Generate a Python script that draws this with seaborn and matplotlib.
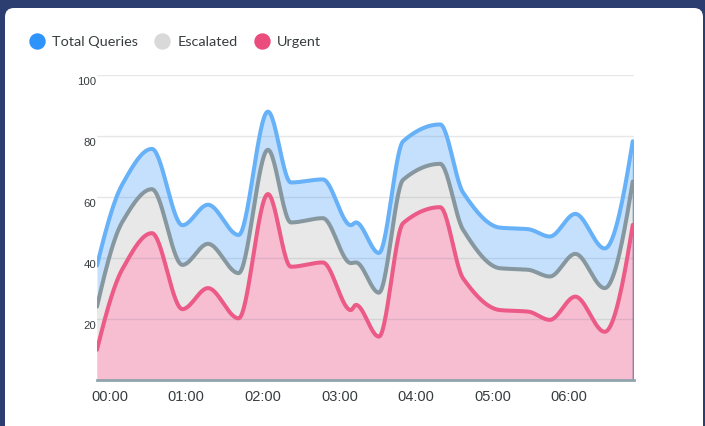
import numpy as np
import seaborn as sns
import matplotlib.pyplot as plt
from matplotlib.lines import Line2D
from matplotlib.patches import FancyBboxPatch
from matplotlib.transforms import IdentityTransform, ScaledTranslation

# minutes after 00:00 for each sample
minutes = [-10, 10, 33, 57, 77, 101, 124, 142, 167, 189, 193, 211, 230, 259, 277, 306, 328, 345, 365, 388, 410]
total_queries = [37.6, 64.3, 75.8, 50.8, 57.5, 47.6, 88.0, 64.8, 65.8, 50.8, 51.7, 41.7, 78.3, 83.8, 61.5, 50.0, 49.5, 47.1, 54.5, 43.2, 78.3]
escalated = [24.1, 52.0, 62.6, 37.8, 44.7, 35.1, 75.5, 51.7, 53.1, 38.4, 38.6, 28.7, 65.7, 70.9, 49.3, 36.7, 36.2, 34.0, 41.4, 30.2, 65.1]
urgent = [10.0, 36.5, 48.2, 23.3, 30.2, 20.3, 61.0, 37.2, 38.6, 23.0, 24.7, 14.3, 51.5, 56.7, 33.4, 23.0, 22.5, 19.8, 27.4, 15.9, 50.9]

tick_minutes = [0, 60, 120, 180, 240, 300, 360]
tick_labels = ['00:00', '01:00', '02:00', '03:00', '04:00', '05:00', '06:00']

series = [
    ('Total Queries', total_queries, '#66b1f7', '#c4e0fc', '#2e93fa'),
    ('Escalated', escalated, '#87979f', '#e8e8e8', '#d9d9d9'),
    ('Urgent', urgent, '#ec5a88', '#f7bdd1', '#ea4c7c'),
]


def smooth(x, y, n=600):
    # monotone cubic (Fritsch-Carlson) curve through the points, for drawing only
    x = np.asarray(x, float)
    y = np.asarray(y, float)
    h = np.diff(x)
    d = np.diff(y) / h
    m = np.zeros_like(y)
    for k in range(1, len(y) - 1):
        if d[k - 1] * d[k] > 0:
            w1 = 2 * h[k] + h[k - 1]
            w2 = h[k] + 2 * h[k - 1]
            m[k] = (w1 + w2) / (w1 / d[k - 1] + w2 / d[k])

    def end(h0, h1, d0, d1):
        s = ((2 * h0 + h1) * d0 - h0 * d1) / (h0 + h1)
        if np.sign(s) != np.sign(d0):
            s = 0.0
        elif np.sign(d0) != np.sign(d1) and abs(s) > abs(3 * d0):
            s = 3 * d0
        return s

    m[0] = end(h[0], h[1], d[0], d[1])
    m[-1] = end(h[-1], h[-2], d[-1], d[-2])
    xs = np.linspace(x[0], x[-1], n)
    idx = np.clip(np.searchsorted(x, xs) - 1, 0, len(x) - 2)
    t = (xs - x[idx]) / h[idx]
    h00 = 2 * t**3 - 3 * t**2 + 1
    h10 = t**3 - 2 * t**2 + t
    h01 = -2 * t**3 + 3 * t**2
    h11 = t**3 - t**2
    ys = h00 * y[idx] + h10 * h[idx] * m[idx] + h01 * y[idx + 1] + h11 * h[idx] * m[idx + 1]
    return xs, ys


sns.set_style('white')
plt.rcParams['font.family'] = ['Lato', 'DejaVu Sans']

fig = plt.figure(figsize=(7.05, 4.26), dpi=100, facecolor='#2c3e70')
card = FancyBboxPatch((5, -20), 698, 426 - 8 + 20, boxstyle='round,pad=0,rounding_size=9',
                      transform=IdentityTransform(), fc='white', ec='none', zorder=-10)
fig.patches.append(card)

ax = fig.add_axes([97 / 705, (426 - 380.3) / 426, (634 - 97) / 705, (380.3 - 75) / 426])
ax.set_facecolor('none')

for name, vals, line_c, fill_c, _ in series:
    xs, ys = smooth(minutes, vals)
    ax.fill_between(xs, 0, ys, color=fill_c, lw=0, zorder=1)
    sns.lineplot(x=xs, y=ys, ax=ax, color=line_c, lw=2.9, zorder=3)
    ax.plot([xs[-1], xs[-1]], [0, ys[-1]], color=line_c, lw=1, zorder=2)

ax.set_xlim(minutes[0], 411)
ax.set_ylim(0, 100)
ax.set_yticks([20, 40, 60, 80, 100])
ax.set_xticks(tick_minutes)
ax.set_xticklabels(tick_labels)
ax.yaxis.grid(True, color='#6e7280', alpha=0.17, lw=1)
ax.set_axisbelow(False)
ax.tick_params(axis='y', length=0, pad=0.5, labelsize=8.2, labelcolor='#373d3f')
ax.tick_params(axis='x', length=4, width=1.2, color='#90a4ae', pad=3, labelsize=10.5, labelcolor='#373d3f')
for lab in ax.get_xticklabels() + ax.get_yticklabels():
    lab.set_fontfamily(['Liberation Sans', 'DejaVu Sans'])
# y labels sit a little below their grid lines
shift = ScaledTranslation(0, -6 / 100, fig.dpi_scale_trans)
for lab in ax.get_yticklabels():
    lab.set_transform(lab.get_transform() + shift)
for side in ['left', 'right', 'top']:
    ax.spines[side].set_visible(False)
ax.spines['bottom'].set_color('#90a4ae')
ax.spines['bottom'].set_linewidth(2)
ax.set_xlabel('')
ax.set_ylabel('')

handles = [Line2D([], [], marker='o', ls='', markersize=10.8, color=s[4]) for s in series]
fig.legend(handles, [s[0] for s in series], loc='center left', bbox_to_anchor=(29.8 / 705, 1 - 42 / 426),
           ncol=3, frameon=False, fontsize=10.4, handlelength=1.0, handletextpad=0.54,
           columnspacing=1.18, borderpad=0, borderaxespad=0, labelcolor='#373d3f')

fig.savefig('out.png', dpi=100, facecolor=fig.get_facecolor())
